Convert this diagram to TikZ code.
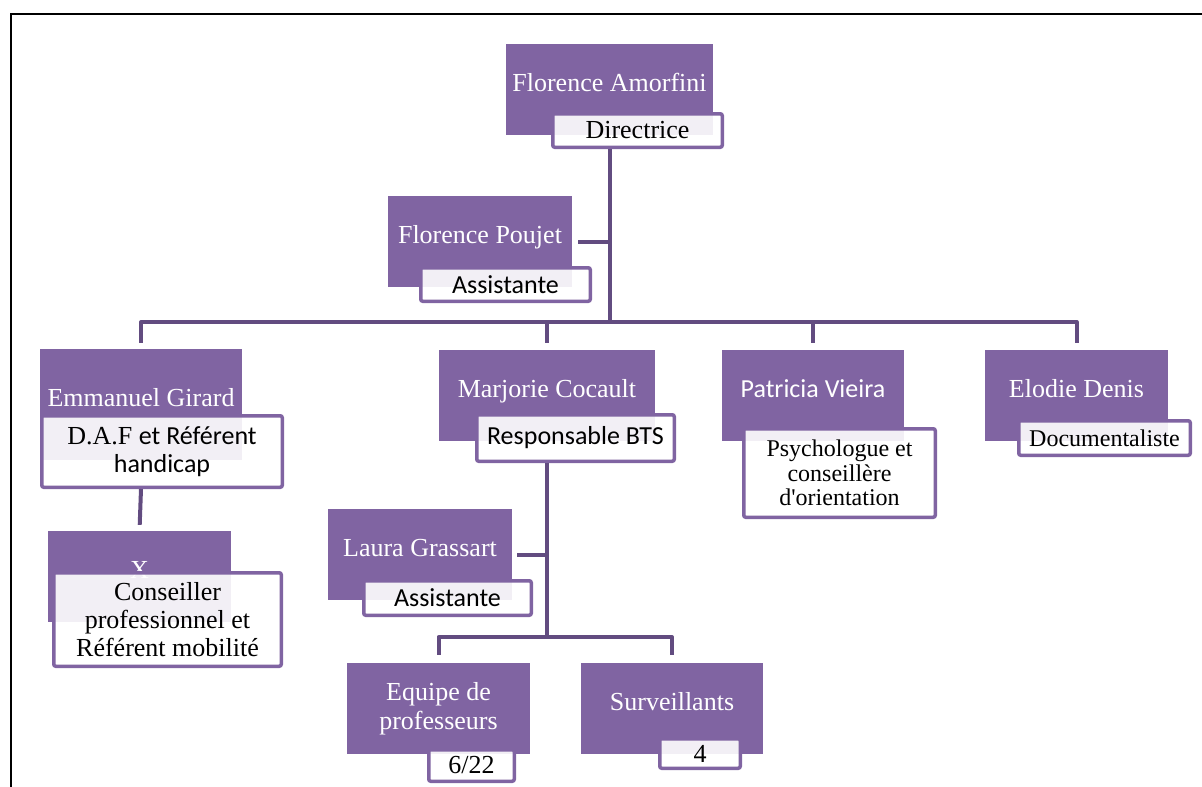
\documentclass[tikz,border=0pt]{standalone}
\usepackage{fontspec}
\setmainfont{Liberation Serif}
\newfontfamily\calibri{Carlito}
\definecolor{boxpurple}{HTML}{8064A2}
\definecolor{linepurple}{HTML}{624C80}
\tikzstyle{person} = [rectangle, fill=boxpurple, text=white, inner sep=0pt, align=center, font=\fontsize{26}{29}\selectfont]
\tikzstyle{oneline} = [text height=14pt, text depth=10pt]
\tikzstyle{role} = [rectangle, rounded corners=2pt, draw=boxpurple, line width=3.5pt, fill=white, fill opacity=0.9, text opacity=1, text=black, inner sep=0pt, align=center, font=\fontsize{26}{28}\selectfont]
\tikzstyle{line} = [line width=4pt, draw=linepurple, line join=round]

\begin{document}
\begin{tikzpicture}[x=1pt, y=-1pt]
\useasboundingbox (0,0) rectangle (1202,787);

% frame
\draw [line width=2.5pt] (11,787) -- (11,14) -- (1202,14);

% Direction
\node (amorfini) [person, oneline, minimum width=207pt, minimum height=91pt] at (609.5,89.5) {Florence Amorfini};
\node (dir) [role, minimum width=169.5pt, minimum height=33.5pt] at (637.5,130.5) {Directrice};
\node (poujet) [person, oneline, minimum width=184pt, minimum height=91pt] at (480,241.5) {Florence Poujet};
\node (poujetrole) [role, minimum width=169.5pt, minimum height=33.5pt] at (505.5,284.5) {\calibri Assistante};

% Second level
\node (girard) [person, oneline, minimum width=202pt, minimum height=111pt] at (141,404.5) {Emmanuel Girard};
\node (girardrole) [role, minimum width=240.5pt, minimum height=71.5pt] at (162,451.5) {D.A.F {\calibri et Référent}\\{\calibri handicap}};
\node (cocault) [person, oneline, minimum width=216pt, minimum height=91pt] at (547,395) {Marjorie Cocault};
\node (cocaultrole) [role, minimum width=197.5pt, minimum height=46.5pt] at (575.5,438) {\calibri Responsable BTS};
\node (vieira) [person, oneline, minimum width=182pt, minimum height=91pt] at (813,395) {\calibri Patricia Vieira};
\node (vieirarole) [role, minimum width=191.5pt, minimum height=88.5pt, font=\fontsize{24}{24.5}\selectfont] at (839.5,473) {Psychologue et\\conseillère\\d\textquotesingle orientation};
\node (denis) [person, oneline, minimum width=183pt, minimum height=91pt] at (1076.5,395) {Elodie Denis};
\node (denisrole) [role, minimum width=171.5pt, minimum height=34.5pt, font=\fontsize{24}{26}\selectfont] at (1104.5,438) {Documentaliste};

% Under Girard
\node (x) [person, oneline, minimum width=183pt, minimum height=91pt] at (139.5,576.5) {X};
\node (xrole) [role, minimum width=227.5pt, minimum height=93.5pt] at (167.5,619.5) {Conseiller\\professionnel et\\Référent mobilité};

% Under Cocault
\node (laura) [person, oneline, minimum width=184pt, minimum height=91pt] at (420,554.5) {Laura Grassart};
\node (laurarole) [role, minimum width=167.5pt, minimum height=34.5pt] at (447.5,598) {\calibri Assistante};
\node (equipe) [person, minimum width=183pt, minimum height=91pt] at (438.5,708.5) {Equipe de\\professeurs};
\node (equiperole) [role, minimum width=85.5pt, minimum height=31.5pt] at (471.5,765.5) {6/22};
\node (surv) [person, oneline, minimum width=182pt, minimum height=91pt] at (672,708.5) {Surveillants};
\node (survrole) [role, minimum width=80.5pt, minimum height=29.5pt] at (700,753.5) {4};

\coordinate (topbus) at (609.5,322);
\coordinate (bottombus) at (547,637);

% Lines from Amorfini
\draw [line] (amorfini.south |- dir.south) -- (topbus);
\draw [line, shorten <=6pt] (poujet.east) -- (poujet.east -| topbus);
\draw [line, shorten <=6pt, shorten >=6pt] (girard.north) -- (girard.north |- topbus) -- (denis.north |- topbus) -- (denis.north);
\foreach \n in {cocault, vieira}
  \draw [line, shorten >=6pt] (\n.north |- topbus) -- (\n.north);

% Line under Girard
\draw [line, shorten >=6pt] (girard.south |- girardrole.south) -- (x.north);

% Lines under Cocault
\draw [line] (cocault.south |- cocaultrole.south) -- (cocault.south |- bottombus);
\draw [line, shorten <=5pt] (laura.east) -- (laura.east -| cocault.south);
\draw [line, shorten <=8pt, shorten >=8pt] (equipe.north) -- (equipe.north |- bottombus) -- (surv.north |- bottombus) -- (surv.north);

\end{tikzpicture}
\end{document}
